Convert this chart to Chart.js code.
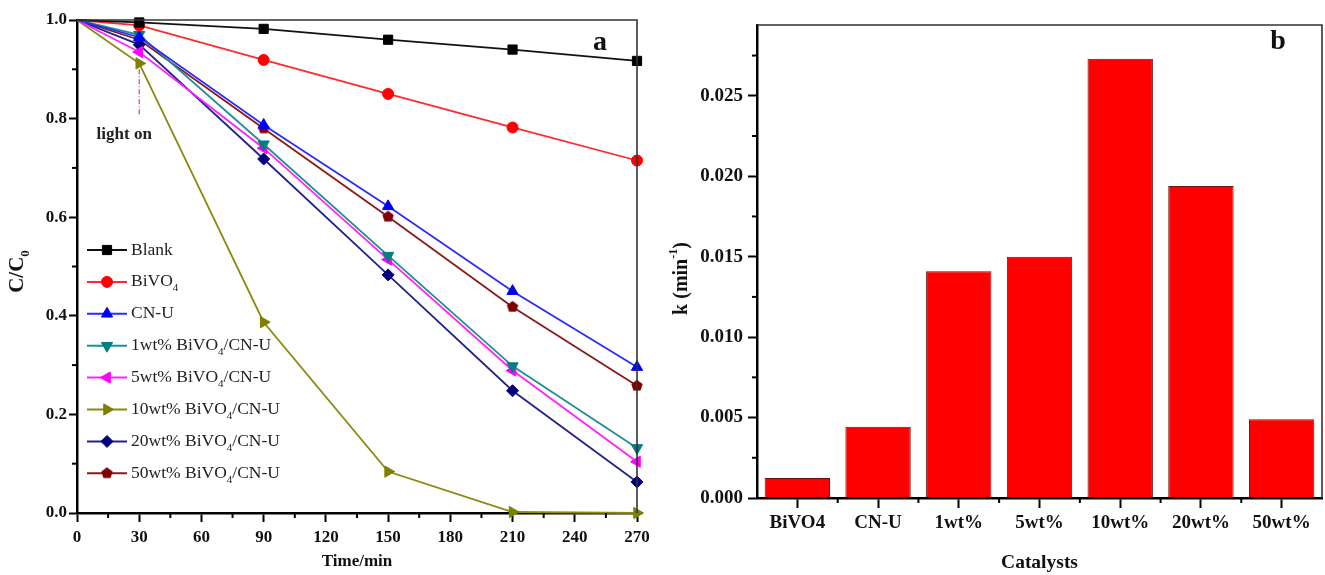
<!DOCTYPE html>
<html>
<head>
<meta charset="utf-8">
<script src="https://cdn.jsdelivr.net/npm/chart.js@4.4.1/dist/chart.umd.min.js"></script>
<style>
  html, body { margin: 0; padding: 0; background: #fff; }
  #wrap { position: relative; width: 1325px; height: 575px; overflow: hidden; }
  .panel { position: absolute; top: 0; height: 575px; }
  #pa { left: 0; width: 660px; }
  #pb { left: 660px; width: 665px; }
</style>
</head>
<body>
<div id="wrap">
  <div class="panel" id="pa"><canvas id="chartA"></canvas></div>
  <div class="panel" id="pb"><canvas id="chartB"></canvas></div>
</div>
<script>
// panel a: C/C0 vs time
const times = [0, 30, 90, 150, 210, 270];
const blank = [1.0, 0.995, 0.982, 0.960, 0.940, 0.917];
const bivo4 = [1.0, 0.989, 0.919, 0.850, 0.782, 0.715];
const cnU   = [1.0, 0.965, 0.787, 0.622, 0.450, 0.296];
const wt1   = [1.0, 0.970, 0.748, 0.522, 0.298, 0.132];
const wt5   = [1.0, 0.935, 0.740, 0.514, 0.289, 0.104];
const wt10  = [1.0, 0.912, 0.387, 0.084, 0.002, 0.0];
const wt20  = [1.0, 0.950, 0.718, 0.483, 0.248, 0.063];
const wt50  = [1.0, 0.960, 0.780, 0.601, 0.418, 0.258];
const seriesNames = ['Blank', 'BiVO_4', 'CN-U', '1wt% BiVO_4/CN-U', '5wt% BiVO_4/CN-U',
                     '10wt% BiVO_4/CN-U', '20wt% BiVO_4/CN-U', '50wt% BiVO_4/CN-U'];
const xTicksA = [0, 30, 60, 90, 120, 150, 180, 210, 240, 270];
const yTicksA = [0.0, 0.2, 0.4, 0.6, 0.8, 1.0];
const lightOnTime = 30;

// panel b: rate constants
const catalysts = ['BiVO4', 'CN-U', '1wt%', '5wt%', '10wt%', '20wt%', '50wt%'];
const kValues = [0.00125, 0.00443, 0.0141, 0.0150, 0.0273, 0.0194, 0.0049];
const yTicksB = [0.000, 0.005, 0.010, 0.015, 0.020, 0.025];

const SERIF = '"Liberation Serif", "Times New Roman", serif';

function pentagon(color, r) {
    const c = document.createElement('canvas');
    c.width = c.height = r * 2 + 2;
    const g = c.getContext('2d');
    g.fillStyle = color;
    g.beginPath();
    for (let i = 0; i < 5; i++) {
        const a = -Math.PI / 2 + i * 2 * Math.PI / 5;
        const px = r + 1 + r * Math.cos(a), py = r + 1 + r * Math.sin(a);
        i ? g.lineTo(px, py) : g.moveTo(px, py);
    }
    g.closePath(); g.fill();
    return c;
}

// text with _x subscripts and ^{..} superscripts
function drawRich(ctx, text, x, y, size, weight, measureOnly) {
    const big = `${weight} ${size}px ${SERIF}`;
    const small = `${weight} ${Math.round(size * 0.62)}px ${SERIF}`;
    const re = /([_^])(?:\{([^}]*)\}|(.))/g;
    let last = 0, m, cx = x;
    const put = (s, font, dy) => {
        ctx.font = font;
        if (!measureOnly) ctx.fillText(s, cx, y + dy);
        cx += ctx.measureText(s).width;
    };
    while ((m = re.exec(text))) {
        if (m.index > last) put(text.slice(last, m.index), big, 0);
        put(m[2] !== undefined ? m[2] : m[3], small, m[1] === '_' ? size * 0.38 : -size * 0.38);
        last = re.lastIndex;
    }
    if (last < text.length) put(text.slice(last), big, 0);
    return cx - x;
}

function drawTitle(ctx, text, cx, cy, size, rotate) {
    ctx.save();
    ctx.fillStyle = '#111';
    ctx.textBaseline = 'middle';
    ctx.textAlign = 'left';
    ctx.translate(cx, cy);
    if (rotate) ctx.rotate(-Math.PI / 2);
    const w = drawRich(ctx, text, 0, 0, size, 'bold', true);
    drawRich(ctx, text, -w / 2, 0, size, 'bold', false);
    ctx.restore();
}

const minorTicks = {
    id: 'minorTicks',
    afterDraw(chart, args, opts) {
        const ctx = chart.ctx;
        ctx.save();
        ctx.strokeStyle = '#000';
        ctx.lineWidth = 2;
        ['x', 'y'].forEach(id => {
            const s = chart.scales[id];
            const pos = [];
            if (s.type === 'category') {
                for (let i = 0; i < s.ticks.length - 1; i++) pos.push(s.getPixelForValue(i + 0.5));
            } else {
                const v = s.ticks.map(t => t.value);
                const step = v[1] - v[0];
                for (let k = v[0] + step / 2; k < s.max; k += step) pos.push(s.getPixelForValue(k));
            }
            pos.forEach(p => {
                ctx.beginPath();
                if (id === 'x') { ctx.moveTo(p, s.top); ctx.lineTo(p, s.top + opts.len); }
                else { ctx.moveTo(s.right, p); ctx.lineTo(s.right - opts.len, p); }
                ctx.stroke();
            });
        });
        ctx.restore();
    }
};

const frame = {
    id: 'frame',
    afterDraw(chart, args, opts) {
        const { ctx, chartArea: a } = chart;
        ctx.save();
        ctx.strokeStyle = '#333';
        ctx.lineWidth = 1.6;
        ctx.beginPath();
        ctx.moveTo(a.left, a.top); ctx.lineTo(a.right, a.top); ctx.lineTo(a.right, a.bottom);
        ctx.stroke();
        ctx.fillStyle = '#111';
        ctx.font = `bold 28px ${SERIF}`;
        ctx.textAlign = 'center';
        ctx.textBaseline = 'middle';
        ctx.fillText(opts.letter, a.right - opts.dx, a.top + opts.dy);
        ctx.restore();
    }
};

const titlesA = {
    id: 'titlesA',
    afterDraw(chart) {
        const { ctx, chartArea: a } = chart;
        drawTitle(ctx, 'C/C_0', 18, (a.top + a.bottom) / 2 + 5, 21, true);
        drawTitle(ctx, 'Time/min', (a.left + a.right) / 2, 562, 17, false);
    }
};

const lightOn = {
    id: 'lightOn',
    afterDatasetsDraw(chart) {
        const { ctx, scales: { x, y } } = chart;
        const px = x.getPixelForValue(lightOnTime);
        ctx.save();
        ctx.strokeStyle = '#e0405a';
        ctx.lineWidth = 1.2;
        ctx.setLineDash([5, 2, 1, 2]);
        ctx.beginPath();
        ctx.moveTo(px, y.getPixelForValue(0.9));
        ctx.lineTo(px, y.getPixelForValue(0.805));
        ctx.stroke();
        ctx.setLineDash([]);
        ctx.fillStyle = '#222';
        ctx.font = `bold 17px ${SERIF}`;
        ctx.textAlign = 'center';
        ctx.textBaseline = 'middle';
        ctx.fillText('light on', px - 15, y.getPixelForValue(0.768));
        ctx.restore();
    }
};

const legendA = {
    id: 'legendA',
    afterDraw(chart) {
        const { ctx, chartArea: a } = chart;
        chart.data.datasets.forEach((ds, i) => {
            const y = a.top + 230 + i * 31.9;
            const x0 = a.left + 10;
            ctx.save();
            ctx.strokeStyle = ds.borderColor;
            ctx.lineWidth = 2;
            ctx.beginPath(); ctx.moveTo(x0, y); ctx.lineTo(x0 + 40, y); ctx.stroke();
            ctx.fillStyle = ds.pointBackgroundColor;
            ctx.strokeStyle = ds.pointBackgroundColor;
            ctx.lineWidth = 1;
            Chart.helpers.drawPoint(ctx, {
                pointStyle: ds.pointStyle, rotation: ds.pointRotation || 0,
                radius: ds.legendRadius, borderWidth: 1
            }, x0 + 20, y);
            ctx.fillStyle = '#222';
            ctx.textBaseline = 'middle';
            ctx.textAlign = 'left';
            drawRich(ctx, ds.label, x0 + 44, y, 17.5, 'normal', false);
            ctx.restore();
        });
    }
};

const seriesA = [blank, bivo4, cnU, wt1, wt5, wt10, wt20, wt50];
const lineColors = ['#111111', '#ff2a2a', '#2b2bff', '#1f8f8f', '#ff22ff', '#8a8a10', '#22228a', '#8a1a1a'];
const markColors = ['#000000', '#ff0000', '#0000ff', '#007f7f', '#ff00ff', '#7f7f00', '#00007f', '#7f0000'];
const markStyles = ['rect', 'circle', 'triangle', 'triangle', 'triangle', 'triangle', 'rectRot', pentagon('#7f0000', 6)];
const markRot = [0, 0, 0, 180, -90, 90, 0, 0];
const markSize = [6.5, 5.5, 6.5, 6.5, 6.5, 6.5, 6, 6];

const axisFont = { family: SERIF, size: 17, weight: 'bold' };

new Chart(document.getElementById('chartA'), {
    type: 'line',
    data: {
        datasets: seriesA.map((vals, i) => ({
            label: seriesNames[i],
            data: vals.map((v, j) => ({ x: times[j], y: v })),
            borderColor: lineColors[i],
            borderWidth: 1.8,
            pointBackgroundColor: markColors[i],
            pointBorderColor: markColors[i],
            pointBorderWidth: 1,
            pointStyle: markStyles[i],
            pointRotation: markRot[i],
            legendRadius: markSize[i],
            pointRadius: c => (c.dataIndex === 0 ? 0 : markSize[i]),
            tension: 0,
            clip: false
        }))
    },
    options: {
        responsive: true,
        maintainAspectRatio: false,
        animation: false,
        layout: { padding: { top: 20, right: 23, left: 0, bottom: 0 } },
        plugins: {
            legend: { display: false },
            tooltip: { enabled: false },
            minorTicks: { len: 5 },
            frame: { letter: 'a', dx: 37, dy: 23 }
        },
        scales: {
            x: {
                type: 'linear', min: 0, max: 270,
                afterFit: s => { s.height = 62; },
                afterBuildTicks: s => { s.ticks = xTicksA.map(v => ({ value: v })); },
                ticks: { font: axisFont, color: '#111', padding: 5, maxRotation: 0 },
                grid: { drawOnChartArea: false, tickLength: 9, tickWidth: 2, tickColor: '#000' },
                border: { color: '#000', width: 2.5 }
            },
            y: {
                min: 0, max: 1,
                afterFit: s => { s.width = 77; },
                afterBuildTicks: s => { s.ticks = yTicksA.map(v => ({ value: v })); },
                ticks: { font: axisFont, color: '#111', padding: 2, callback: v => v.toFixed(1) },
                grid: { drawOnChartArea: false, tickLength: 8, tickWidth: 2, tickColor: '#000' },
                border: { color: '#000', width: 2.5 }
            }
        }
    },
    plugins: [minorTicks, frame, titlesA, lightOn, legendA]
});

const titlesB = {
    id: 'titlesB',
    afterDraw(chart) {
        const { ctx, chartArea: a } = chart;
        drawTitle(ctx, 'k (min^{-1})', 22, (a.top + a.bottom) / 2 + 17, 20, true);
        drawTitle(ctx, 'Catalysts', (a.left + a.right) / 2, 563, 19.5, false);
    }
};

const axisFontB = { family: SERIF, size: 19, weight: 'bold' };

new Chart(document.getElementById('chartB'), {
    type: 'bar',
    data: {
        labels: catalysts,
        datasets: [{
            data: kValues,
            backgroundColor: '#ff0000',
            borderColor: '#6a1010',
            borderWidth: 1,
            barPercentage: 0.81,
            categoryPercentage: 1
        }]
    },
    options: {
        responsive: true,
        maintainAspectRatio: false,
        animation: false,
        layout: { padding: { top: 25, right: 3, left: 0, bottom: 0 } },
        plugins: {
            legend: { display: false },
            tooltip: { enabled: false },
            minorTicks: { len: 5 },
            frame: { letter: 'b', dx: 44, dy: 17 }
        },
        scales: {
            x: {
                afterFit: s => { s.height = 77; },
                ticks: { font: axisFontB, color: '#111', padding: 4, maxRotation: 0 },
                grid: { offset: false, drawOnChartArea: false, tickLength: 10, tickWidth: 2, tickColor: '#000' },
                border: { color: '#000', width: 2.5 }
            },
            y: {
                min: 0, max: 0.0294,
                afterFit: s => { s.width = 97; },
                afterBuildTicks: s => { s.ticks = yTicksB.map(v => ({ value: v })); },
                ticks: { font: axisFontB, color: '#111', padding: 5, callback: v => v.toFixed(3) },
                grid: { drawOnChartArea: false, tickLength: 9, tickWidth: 2, tickColor: '#000' },
                border: { color: '#000', width: 2.5 }
            }
        }
    },
    plugins: [minorTicks, frame, titlesB]
});
</script>
</body>
</html>
